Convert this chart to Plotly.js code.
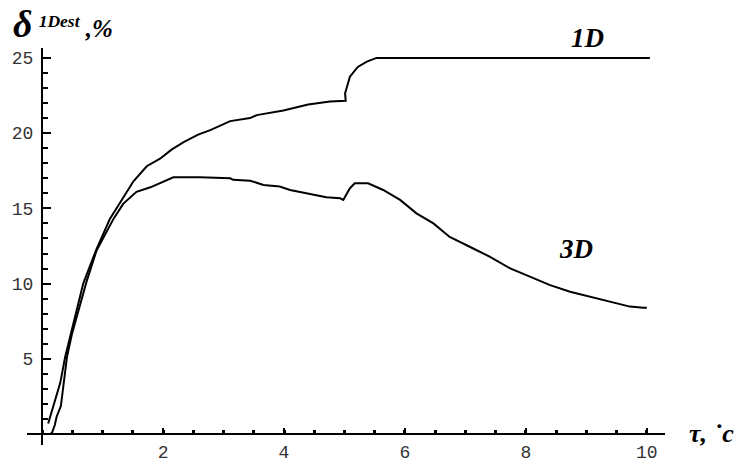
<!DOCTYPE html>
<html>
<head>
<meta charset="utf-8">
<script src="https://cdn.plot.ly/plotly-3.0.1.min.js"></script>
<style>html,body{margin:0;padding:0;background:#fff;}#chart{width:734px;height:463px;}</style>
</head>
<body>
<div id="chart"></div>
<script>
// Data
var x1D = [0.10, 0.19, 0.30, 0.38, 0.49, 0.68, 0.88, 1.12, 1.34, 1.51, 1.73, 1.95, 2.14, 2.34, 2.58, 2.78, 3.11, 3.44, 3.55, 3.99, 4.40, 4.76, 5.02, 5.01, 5.09, 5.22, 5.37, 5.53, 10.05];
var y1D = [0.7, 1.86, 3.4, 5.1, 6.9, 10.0, 12.1, 14.3, 15.7, 16.8, 17.8, 18.3, 18.9, 19.4, 19.9, 20.2, 20.8, 21.0, 21.2, 21.5, 21.9, 22.1, 22.15, 22.65, 23.75, 24.4, 24.76, 25.0, 25.0];
var x3D = [0.13, 0.16, 0.21, 0.24, 0.31, 0.38, 0.41, 0.49, 0.57, 0.66, 0.74, 0.90, 1.18, 1.34, 1.56, 1.79, 2.06, 2.17, 2.61, 3.11, 3.16, 3.44, 3.66, 3.93, 4.10, 4.40, 4.70, 4.93, 4.98, 5.09, 5.17, 5.39, 5.64, 5.92, 6.19, 6.47, 6.74, 7.07, 7.40, 7.74, 8.07, 8.40, 8.73, 9.06, 9.39, 9.72, 9.94, 10.0];
var y3D = [0.0, 0.05, 0.6, 1.15, 1.86, 3.9, 5.1, 6.6, 7.8, 9.1, 10.2, 12.2, 14.3, 15.3, 16.1, 16.4, 16.9, 17.07, 17.07, 17.0, 16.9, 16.84, 16.56, 16.45, 16.22, 16.0, 15.74, 15.67, 15.56, 16.34, 16.67, 16.67, 16.22, 15.56, 14.67, 14.0, 13.1, 12.45, 11.79, 11.01, 10.46, 9.9, 9.46, 9.13, 8.8, 8.47, 8.4, 8.4];
var xTicks = [2, 4, 6, 8, 10];
var yTicks = [5, 10, 15, 20, 25];
var seriesLabels = ['1D', '3D'];
var yTitle = '<span style="font-size:38px">δ</span> <sup>1Dest</sup> ,%';
var xTitle = 'τ, ˙c';

var W = 734, H = 463;
var M = {l: 27, r: 69, t: 48, b: 18};
function px(x) { return (x - M.l) / (W - M.l - M.r); }
function py(y) { return (H - M.b - y) / (H - M.t - M.b); }

var lineStyle = {color: '#000', width: 2};
var traces = [
  {x: x1D, y: y1D, mode: 'lines', line: lineStyle, name: seriesLabels[0], hoverinfo: 'skip'},
  {x: x3D, y: y3D, mode: 'lines', line: lineStyle, name: seriesLabels[1], hoverinfo: 'skip'}
];

var tickFont = {family: 'Liberation Mono, Courier New, monospace', size: 18, color: '#333'};
var labFont = {family: 'Liberation Serif, Times New Roman, serif', size: 27, color: '#000', weight: 'bold', style: 'italic'};

var layout = {
  width: W, height: H,
  margin: M,
  paper_bgcolor: '#fff', plot_bgcolor: '#fff',
  showlegend: false,
  xaxis: {
    range: [-0.25, 10.3], anchor: 'free', position: py(434),
    showgrid: false, zeroline: false, showline: true, linecolor: '#000', linewidth: 2,
    tickmode: 'array', tickvals: xTicks, ticktext: xTicks.map(String),
    ticks: 'inside', ticklen: 5, tickwidth: 2, tickcolor: '#000',
    minor: {tickmode: 'linear', tick0: 0, dtick: 0.5, ticks: 'inside', ticklen: 3, tickwidth: 3, tickcolor: '#000', showgrid: false},
    tickfont: tickFont, ticklabelstandoff: 1
  },
  yaxis: {
    range: [-0.73, 25.66], anchor: 'free', position: px(42),
    showgrid: false, zeroline: false, showline: true, linecolor: '#000', linewidth: 2,
    tickmode: 'array', tickvals: yTicks, ticktext: yTicks.map(String),
    ticks: 'inside', ticklen: 8, tickwidth: 2, tickcolor: '#000',
    minor: {tickmode: 'linear', tick0: 0, dtick: 1, ticks: 'inside', ticklen: 5, tickwidth: 2, tickcolor: '#000', showgrid: false},
    tickfont: tickFont, ticklabelstandoff: 4
  },
  annotations: [
    {xref: 'paper', yref: 'paper', x: px(11), y: py(24), xanchor: 'left', yanchor: 'middle', showarrow: false,
     text: yTitle, font: {family: labFont.family, size: 25, color: '#000', weight: 'bold', style: 'italic'}},
    {xref: 'paper', yref: 'paper', x: px(587), y: py(38), xanchor: 'center', yanchor: 'middle', showarrow: false,
     text: seriesLabels[0], font: labFont},
    {xref: 'paper', yref: 'paper', x: px(576), y: py(249), xanchor: 'center', yanchor: 'middle', showarrow: false,
     text: seriesLabels[1], font: labFont},
    {xref: 'paper', yref: 'paper', x: px(711), y: py(433), xanchor: 'center', yanchor: 'middle', showarrow: false,
     text: xTitle, font: {family: labFont.family, size: 26, color: '#000', weight: 'bold', style: 'italic'}}
  ]
};

Plotly.newPlot('chart', traces, layout, {displayModeBar: false, staticPlot: true});
</script>
</body>
</html>
